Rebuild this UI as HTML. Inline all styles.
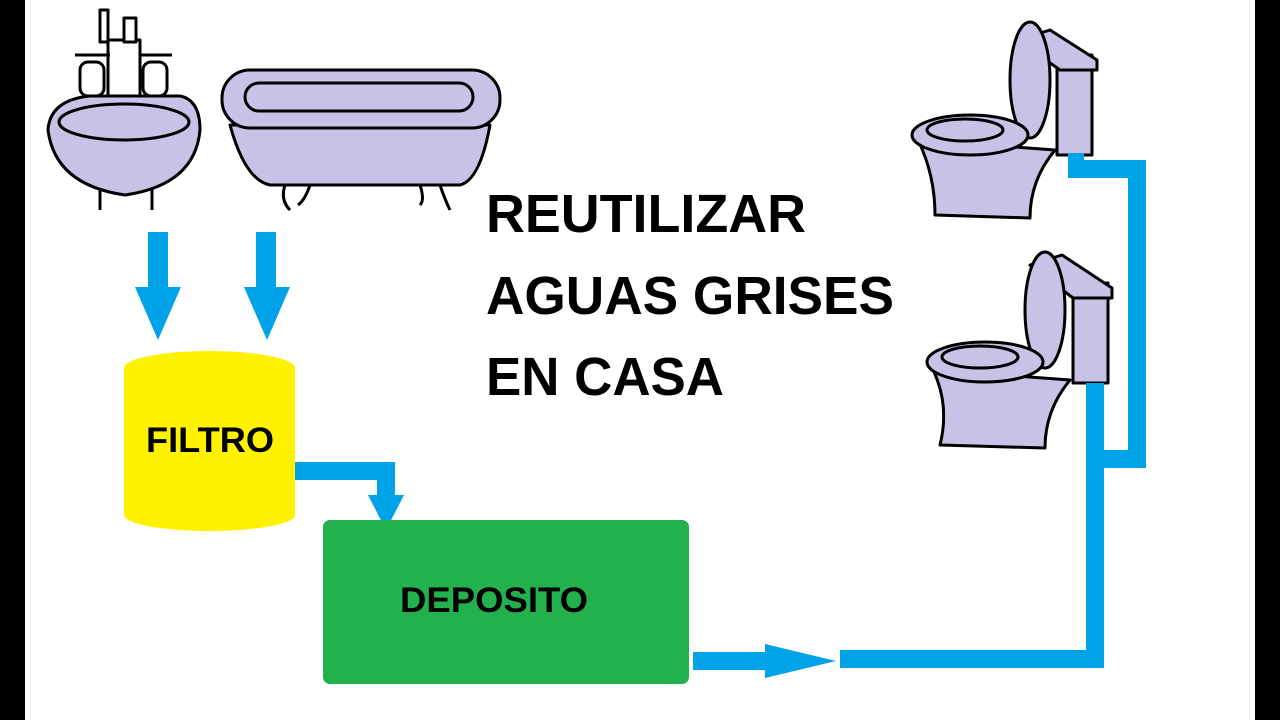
<!DOCTYPE html>
<html><head><meta charset="utf-8"><style>
html,body{margin:0;padding:0;background:#000}
svg{display:block}
text{font-family:"Liberation Sans",sans-serif;font-weight:bold;fill:#000}
</style></head><body>
<svg width="1280" height="720" viewBox="0 0 1280 720" xmlns="http://www.w3.org/2000/svg">
<rect x="0" y="0" width="1280" height="720" fill="#000"/>
<rect x="25" y="0" width="1230" height="720" fill="#fff"/>
<g stroke="#000" stroke-width="3" fill="#c8c2e6" stroke-linejoin="round">
<path d="M100 210 L100 185 M152 210 L152 185" fill="none"/>
<path d="M48 130 Q50 100 90 96 L180 96 Q200 100 200 130 Q195 185 125 195 Q55 185 48 130 Z"/>
<ellipse cx="124" cy="122" rx="65" ry="18"/>
<rect x="108" y="40" width="32" height="56" fill="#fff"/>
<rect x="100" y="10" width="8" height="32" fill="#fff"/>
<rect x="124" y="18" width="12" height="24" fill="#fff"/>
<rect x="80" y="62" width="24" height="34" rx="8" fill="#fff"/>
<rect x="143" y="62" width="24" height="34" rx="8" fill="#fff"/>
<path d="M75 55 L110 55 M140 55 L172 55" fill="none"/>
<path d="M230 125 L490 125 Q480 180 460 185 L270 185 Q245 180 230 125 Z"/>
<rect x="222" y="70" width="278" height="58" rx="28"/>
<rect x="245" y="83" width="228" height="28" rx="14"/>
<path d="M285 185 Q280 200 290 210 M310 185 Q305 200 298 205 M420 185 Q425 200 420 205 M440 185 Q445 200 450 210" fill="none"/>
<rect x="1057" y="55" width="35" height="100"/>
<path d="M1018 40 L1050 30 L1097 60 L1097 70 L1060 70 Z"/>
<ellipse cx="1030" cy="80" rx="20" ry="58"/>
<path d="M918 140 Q935 175 935 215 L1030 218 Q1030 180 1055 150 Z"/>
<ellipse cx="970" cy="135" rx="58" ry="20"/>
<ellipse cx="965" cy="130" rx="38" ry="11"/>
<rect x="1073" y="283" width="35" height="100"/>
<path d="M1030 265 L1062 255 L1112 288 L1112 298 L1073 298 Z"/>
<ellipse cx="1045" cy="310" rx="20" ry="58"/>
<path d="M933 370 Q950 405 940 445 L1045 448 Q1045 410 1070 380 Z"/>
<ellipse cx="985" cy="362" rx="58" ry="20"/>
<ellipse cx="980" cy="357" rx="38" ry="11"/>
</g>
<g fill="#00a2e8">
<rect x="148" y="232" width="20" height="58"/>
<polygon points="135,287 181,287 158,340"/>
<rect x="256" y="232" width="20" height="58"/>
<polygon points="244,287 290,287 267,340"/>
<rect x="295" y="462" width="100" height="18"/>
<rect x="377" y="462" width="18" height="36"/>
<polygon points="368,495 404,495 386,530"/>
<rect x="693" y="652" width="75" height="18"/>
<polygon points="765,644 836,661 765,678"/>
<rect x="840" y="650" width="264" height="18"/>
<rect x="1086" y="383" width="18" height="285"/>
<rect x="1086" y="450" width="60" height="18"/>
<rect x="1128" y="160" width="18" height="308"/>
<rect x="1068" y="160" width="78" height="18"/>
<rect x="1068" y="153" width="16" height="25"/>
</g>
<path d="M124 368 L124 515 A85.5 16 0 0 0 295 515 L295 368 Z" fill="#fff200"/>
<ellipse cx="209.5" cy="368" rx="85.5" ry="17" fill="#fff200"/>
<text x="146" y="452" font-size="35" textLength="128" lengthAdjust="spacingAndGlyphs">FILTRO</text>
<rect x="323" y="520" width="366" height="164" rx="7" fill="#22b14c"/>
<text x="400" y="612" font-size="35" textLength="188" lengthAdjust="spacingAndGlyphs">DEPOSITO</text>
<text x="486" y="232" font-size="54" textLength="320" lengthAdjust="spacingAndGlyphs">REUTILIZAR</text>
<text x="486" y="314" font-size="54" textLength="408" lengthAdjust="spacingAndGlyphs">AGUAS GRISES</text>
<text x="486" y="395" font-size="54" textLength="238" lengthAdjust="spacingAndGlyphs">EN CASA</text>
</svg>
</body></html>
